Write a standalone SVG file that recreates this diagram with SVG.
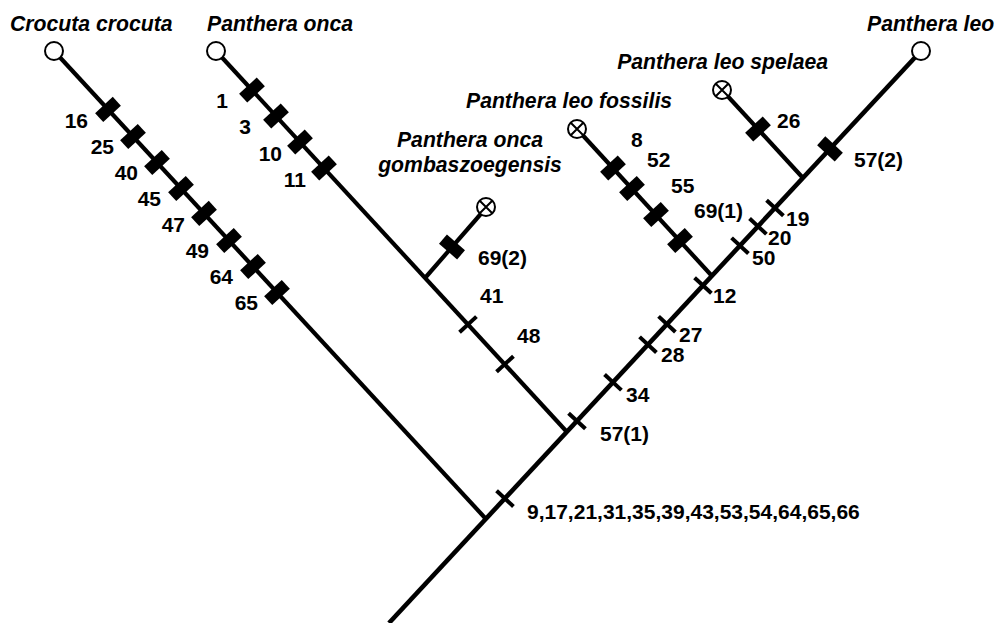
<svg xmlns="http://www.w3.org/2000/svg" width="996" height="623" viewBox="0 0 996 623">
<style>
.br{stroke:#000;stroke-width:4.2;fill:none;stroke-linecap:butt}
.mn{stroke-width:4.6}
.hv{fill:#000}
.tn{stroke:#000;stroke-width:4}
.tip{fill:#fff;stroke:#000;stroke-width:2}
.x{stroke:#000;stroke-width:2}
.sp{font-family:"Liberation Sans",Arial,sans-serif;font-weight:bold;font-style:italic;font-size:21.2px;fill:#000}
.n{font-family:"Liberation Sans",Arial,sans-serif;font-weight:bold;font-size:21px;fill:#000}
</style>
<defs>
<rect id="H" class="hv" x="-6" y="-12" width="12" height="24"/>
<line id="T" class="tn" x1="0" y1="-11.5" x2="0" y2="11.5"/>
</defs>
<rect width="996" height="623" fill="#fff"/>
<g id="connectors">
<line class="br mn" x1="389" y1="623" x2="921" y2="51"/>
<line class="br" x1="55" y1="52" x2="486" y2="519"/>
<line class="br" x1="216" y1="51" x2="567" y2="432"/>
<line class="br" x1="425" y1="278" x2="486" y2="208"/>
<line class="br" x1="577" y1="129" x2="712" y2="276"/>
<line class="br" x1="722" y1="90" x2="803" y2="178"/>
<use href="#H" transform="translate(108,109.4) rotate(47.3)"/>
<use href="#H" transform="translate(133,136.5) rotate(47.3)"/>
<use href="#H" transform="translate(157,162.5) rotate(47.3)"/>
<use href="#H" transform="translate(181,188.5) rotate(47.3)"/>
<use href="#H" transform="translate(204,213.4) rotate(47.3)"/>
<use href="#H" transform="translate(229,240.5) rotate(47.3)"/>
<use href="#H" transform="translate(253,266.5) rotate(47.3)"/>
<use href="#H" transform="translate(277,292.5) rotate(47.3)"/>
<use href="#H" transform="translate(252,90) rotate(47.3)"/>
<use href="#H" transform="translate(276,116) rotate(47.3)"/>
<use href="#H" transform="translate(300,142) rotate(47.3)"/>
<use href="#H" transform="translate(324,168) rotate(47.3)"/>
<use href="#T" transform="translate(468,324.4) rotate(47.3)"/>
<use href="#T" transform="translate(505,364) rotate(47.3)"/>
<use href="#H" transform="translate(452,247) rotate(-48.9)"/>
<use href="#H" transform="translate(613,168) rotate(47.3)"/>
<use href="#H" transform="translate(632,188.5) rotate(47.3)"/>
<use href="#H" transform="translate(656,214.5) rotate(47.3)"/>
<use href="#H" transform="translate(680,240.5) rotate(47.3)"/>
<use href="#H" transform="translate(758,129) rotate(47.3)"/>
<use href="#H" transform="translate(830,148.9) rotate(-47.1)"/>
<use href="#T" transform="translate(505,498.6) rotate(-47.1)"/>
<use href="#T" transform="translate(577,421) rotate(-47.1)"/>
<use href="#T" transform="translate(613,382.3) rotate(-47.1)"/>
<use href="#T" transform="translate(648,344.7) rotate(-47.1)"/>
<use href="#T" transform="translate(667,324.2) rotate(-47.1)"/>
<use href="#T" transform="translate(703,285.5) rotate(-47.1)"/>
<use href="#T" transform="translate(740,245.7) rotate(-47.1)"/>
<use href="#T" transform="translate(758,226.3) rotate(-47.1)"/>
<use href="#T" transform="translate(775,208) rotate(-47.1)"/>
</g>
<g id="labels">
<text class="n" x="88" y="128" text-anchor="end">16</text>
<text class="n" x="114" y="154" text-anchor="end">25</text>
<text class="n" x="138" y="180" text-anchor="end">40</text>
<text class="n" x="161" y="206" text-anchor="end">45</text>
<text class="n" x="185" y="232" text-anchor="end">47</text>
<text class="n" x="209" y="258" text-anchor="end">49</text>
<text class="n" x="233" y="284" text-anchor="end">64</text>
<text class="n" x="258" y="310" text-anchor="end">65</text>
<text class="n" x="228" y="108" text-anchor="end">1</text>
<text class="n" x="251" y="134" text-anchor="end">3</text>
<text class="n" x="282" y="161" text-anchor="end">10</text>
<text class="n" x="306" y="187" text-anchor="end">11</text>
<text class="n" x="480" y="303">41</text>
<text class="n" x="517" y="343">48</text>
<text class="n" x="478" y="265">69(2)</text>
<text class="n" x="527" y="519">9,17,21,31,35,39,43,53,54,64,65,66</text>
<text class="n" x="600" y="441">57(1)</text>
<text class="n" x="626" y="402">34</text>
<text class="n" x="661" y="362">28</text>
<text class="n" x="679" y="342">27</text>
<text class="n" x="713" y="303">12</text>
<text class="n" x="752" y="265">50</text>
<text class="n" x="768" y="245">20</text>
<text class="n" x="786" y="226">19</text>
<text class="n" x="854" y="167">57(2)</text>
<text class="n" x="777" y="128">26</text>
<text class="n" x="631" y="147">8</text>
<text class="n" x="647" y="167">52</text>
<text class="n" x="671" y="193">55</text>
<text class="n" x="694" y="218">69(1)</text>
</g>
<g id="crocuta">
<circle class="tip" cx="54" cy="51" r="9"/>
<text class="sp" x="10" y="31">Crocuta crocuta</text>
</g>
<g id="onca">
<circle class="tip" cx="216" cy="51" r="9"/>
<text class="sp" x="207" y="31">Panthera onca</text>
</g>
<g id="gombaszoegensis">
<circle class="tip" cx="486" cy="207" r="9"/>
<path class="x" d="M479.5,200.5 L492.5,213.5 M492.5,200.5 L479.5,213.5"/>
<text class="sp" x="470" y="147" text-anchor="middle">Panthera onca</text>
<text class="sp" x="470" y="172" text-anchor="middle">gombaszoegensis</text>
</g>
<g id="fossilis">
<circle class="tip" cx="577" cy="129" r="9"/>
<path class="x" d="M570.5,122.5 L583.5,135.5 M583.5,122.5 L570.5,135.5"/>
<text class="sp" x="466" y="108">Panthera leo fossilis</text>
</g>
<g id="spelaea">
<circle class="tip" cx="722" cy="90" r="9"/>
<path class="x" d="M715.5,83.5 L728.5,96.5 M728.5,83.5 L715.5,96.5"/>
<text class="sp" x="828" y="69" text-anchor="end">Panthera leo spelaea</text>
</g>
<g id="leo">
<circle class="tip" cx="921" cy="51" r="9"/>
<text class="sp" x="867" y="31">Panthera leo</text>
</g>
</svg>
